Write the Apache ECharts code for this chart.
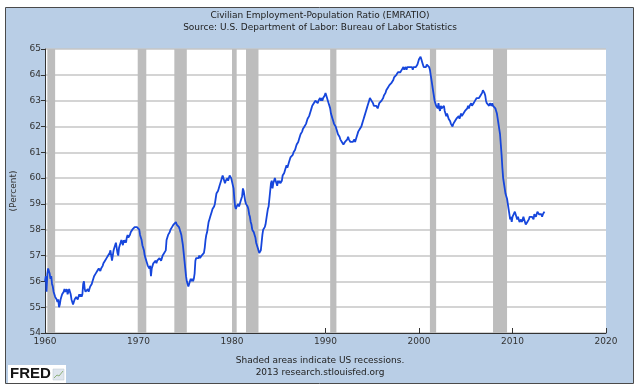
<!DOCTYPE html>
<html><head><meta charset="utf-8">
<script src="https://cdn.jsdelivr.net/npm/echarts@6/dist/echarts.min.js"></script>
<style>html,body{margin:0;padding:0;background:#fff}#c{width:640px;height:389px}</style>
</head><body><div id="c"></div><script>
const startYear = 1960; // first monthly observation: Jan 1960
const emratio1960s = [
56.0,56.2,55.6,56.3,56.5,56.4,56.3,56.1,56.2,55.9,55.8,55.6,
55.5,55.4,55.4,55.3,55.2,55.3,55.0,55.1,55.3,55.4,55.5,55.5,
55.6,55.7,55.6,55.6,55.7,55.5,55.6,55.7,55.6,55.5,55.3,55.2,
55.1,55.2,55.3,55.3,55.4,55.4,55.3,55.4,55.5,55.4,55.5,55.4,
55.5,55.9,56.0,55.7,55.6,55.6,55.6,55.7,55.6,55.7,55.8,55.8,
55.9,56.0,56.1,56.2,56.2,56.3,56.3,56.4,56.4,56.5,56.5,56.4,
56.5,56.5,56.6,56.7,56.7,56.8,56.8,56.9,56.9,57.0,57.0,57.1,
57.2,57.0,56.8,57.0,57.2,57.3,57.4,57.5,57.3,57.1,57.0,57.3,
57.4,57.5,57.6,57.5,57.4,57.6,57.5,57.6,57.5,57.7,57.8,57.7,
57.7,57.8,57.9,57.9,58.0,58.0,58.0,58.1,58.1,58.1,58.1,58.1];
const emratio1970s = [
58.1,58.0,57.8,57.7,57.6,57.4,57.3,57.2,57.0,56.9,56.8,56.7,
56.6,56.6,56.5,56.6,56.2,56.5,56.6,56.7,56.7,56.7,56.8,56.7,
56.8,56.8,56.8,56.9,56.9,56.8,56.9,57.0,57.0,57.1,57.1,57.2,
57.6,57.7,57.8,57.8,57.9,58.0,58.0,58.1,58.1,58.2,58.2,58.2,
58.3,58.2,58.2,58.2,58.1,58.0,57.9,57.8,57.6,57.4,57.1,56.8,
56.5,56.2,56.0,55.9,55.8,55.9,56.0,56.1,56.0,56.1,56.0,56.1,
56.3,56.8,56.9,56.9,56.9,56.9,57.0,56.9,56.9,57.0,57.0,57.0,
57.1,57.3,57.6,57.8,57.9,58.1,58.3,58.4,58.5,58.6,58.7,58.8,
58.8,58.9,59.0,59.2,59.4,59.4,59.5,59.6,59.7,59.8,59.9,60.0,
60.1,60.0,59.9,59.8,59.9,59.9,60.0,59.9,60.0,60.1,60.1,60.0];
const emratio1980s = [
60.0,60.0,59.6,59.2,58.9,58.8,58.9,58.9,59.0,58.9,59.0,59.1,
59.2,59.3,59.6,59.5,59.3,59.1,59.0,59.0,58.9,58.8,58.6,58.5,
58.3,58.2,58.0,58.0,57.9,57.8,57.7,57.5,57.4,57.3,57.2,57.1,
57.1,57.2,57.5,57.8,58.0,58.0,58.1,58.2,58.4,58.6,58.8,58.9,
59.2,59.5,59.8,59.9,59.6,59.8,59.9,60.0,59.9,59.8,59.7,59.9,
59.8,59.9,59.8,59.8,59.9,60.1,60.1,60.2,60.3,60.3,60.5,60.4,
60.5,60.6,60.6,60.8,60.8,60.8,60.9,61.0,61.0,61.1,61.2,61.3,
61.3,61.4,61.5,61.6,61.7,61.7,61.8,61.9,61.9,62.0,62.0,62.1,
62.2,62.3,62.3,62.4,62.5,62.6,62.7,62.8,62.8,62.9,62.9,63.0,
63.0,63.0,62.9,63.0,63.0,63.1,63.0,63.1,63.0,63.1,63.1,63.2];
const emratio1990s = [
63.3,63.2,63.1,63.0,62.9,62.8,62.7,62.5,62.4,62.3,62.2,62.1,
62.1,62.0,61.9,61.8,61.7,61.7,61.6,61.5,61.5,61.4,61.4,61.3,
61.3,61.4,61.4,61.4,61.5,61.6,61.5,61.5,61.4,61.4,61.4,61.4,
61.4,61.5,61.4,61.5,61.6,61.7,61.8,61.8,61.9,61.9,62.0,62.1,
62.2,62.3,62.4,62.4,62.6,62.7,62.8,62.9,63.0,63.1,63.1,63.0,
63.0,62.9,62.8,62.8,62.8,62.8,62.8,62.7,62.8,62.9,62.9,62.9,
63.0,63.0,63.1,63.2,63.2,63.3,63.4,63.4,63.5,63.5,63.6,63.6,
63.6,63.7,63.7,63.8,63.9,63.9,63.9,64.0,64.0,64.1,64.1,64.1,
64.1,64.1,64.2,64.2,64.3,64.2,64.2,64.3,64.2,64.3,64.3,64.3,
64.3,64.3,64.3,64.3,64.2,64.3,64.3,64.3,64.3,64.3,64.4,64.4];
const emratio2000s = [
64.6,64.6,64.7,64.6,64.5,64.4,64.3,64.3,64.3,64.3,64.4,64.4,
64.4,64.3,64.2,64.0,63.8,63.6,63.4,63.2,63.0,62.9,62.8,62.8,
62.7,62.9,62.7,62.6,62.8,62.7,62.7,62.7,62.8,62.6,62.5,62.4,
62.5,62.4,62.3,62.3,62.2,62.1,62.1,62.0,62.1,62.1,62.2,62.2,
62.3,62.3,62.3,62.4,62.3,62.4,62.5,62.4,62.4,62.5,62.5,62.6,
62.6,62.6,62.7,62.8,62.7,62.8,62.8,62.9,62.8,62.8,62.9,62.9,
63.0,63.0,63.1,63.1,63.1,63.1,63.1,63.2,63.2,63.3,63.4,63.4,
63.3,63.2,63.0,62.9,62.9,62.9,62.8,62.9,62.9,62.8,62.9,62.8,
62.8,62.8,62.7,62.6,62.5,62.3,62.1,61.9,61.7,61.3,60.9,60.4,
60.0,59.8,59.6,59.4,59.3,59.2,59.0,58.8,58.6,58.4,58.5,58.3];
const emratio2010s = [
58.5,58.5,58.5,58.7,58.6,58.5,58.4,58.5,58.5,58.3,58.3,58.4,
58.3,58.4,58.5,58.4,58.4,58.2,58.2,58.3,58.3,58.4,58.5,58.5,
58.5,58.5,58.5,58.4,58.6,58.6,58.5,58.5,58.7,58.7,58.6,58.6,
58.6,58.6,58.5,58.6,58.6,58.7];
const recessionStarts = ['1960-04','1969-12','1973-11','1980-01','1981-07','1990-07','2001-03','2007-12'];
const recessionEnds   = ['1961-02','1970-11','1975-03','1980-07','1982-11','1991-03','2001-11','2009-06'];
const xTickYears = [1960,1970,1980,1990,2000,2010,2020];
const yTickValues = [54,55,56,57,58,59,60,61,62,63,64,65];

const allValues = [].concat(emratio1960s, emratio1970s, emratio1980s, emratio1990s, emratio2000s, emratio2010s);
const lineData = allValues.map((v, i) => [startYear + i / 12, v]);
const toYear = s => { const p = s.split('-'); return +p[0] + (+p[1] - 1) / 12; };
const areas = recessionStarts.map((s, i) => [{xAxis: toYear(s)}, {xAxis: toYear(recessionEnds[i])}]);

const FONT = 'DejaVu Sans';
const chart = echarts.init(document.getElementById('c'), null, {renderer: 'canvas'});
chart.setOption({
  animation: false,
  backgroundColor: '#ffffff',
  textStyle: {fontFamily: FONT},
  graphic: [
    {type: 'rect', z: -10, shape: {x: 5.5, y: 7.5, width: 628, height: 376},
     style: {fill: '#b9cee6', stroke: '#4a4a4a', lineWidth: 1}},
    {type: 'text', left: 'center', top: 11, style: {text: 'Civilian Employment-Population Ratio (EMRATIO)', font: '9px ' + FONT, fill: '#222'}},
    {type: 'text', left: 'center', top: 23, style: {text: 'Source: U.S. Department of Labor: Bureau of Labor Statistics', font: '9px ' + FONT, fill: '#222'}},
    {type: 'text', left: 'center', top: 356, style: {text: 'Shaded areas indicate US recessions.', font: '9px ' + FONT, fill: '#222'}},
    {type: 'text', left: 'center', top: 368, style: {text: '2013 research.stlouisfed.org', font: '9px ' + FONT, fill: '#222'}},
    {type: 'group', left: 8, top: 365, children: [
      {type: 'rect', shape: {x: 0, y: 0, width: 58, height: 18}, style: {fill: '#ffffff'}},
      {type: 'text', x: 2, y: 1, style: {text: 'FRED', font: 'bold 15px "Liberation Sans"', fill: '#151515'}},
      {type: 'rect', shape: {x: 45, y: 4, width: 11, height: 11}, style: {fill: '#dfe6ee', stroke: '#b8c4cf', lineWidth: 0.5}},
      {type: 'polyline', shape: {points: [[46, 13], [49, 10], [51, 11], [55, 6]]}, style: {stroke: '#8fb07a', lineWidth: 1, fill: null}}
    ]}
  ],
  grid: {left: 45, right: 34, top: 49, bottom: 56, show: true, backgroundColor: '#ffffff', borderWidth: 0},
  xAxis: {
    type: 'value', min: xTickYears[0], max: xTickYears[xTickYears.length - 1], interval: 10,
    axisLine: {lineStyle: {color: '#333', width: 1}},
    axisTick: {inside: true, length: 5, lineStyle: {color: '#333'}},
    splitLine: {show: false},
    axisLabel: {color: '#333', fontSize: 9, margin: 4, formatter: v => String(v)}
  },
  yAxis: {
    type: 'value', min: yTickValues[0], max: yTickValues[yTickValues.length - 1], interval: 1,
    name: '(Percent)', nameLocation: 'middle', nameRotate: 90, nameGap: 25,
    nameTextStyle: {color: '#333', fontSize: 9},
    axisLine: {show: true, lineStyle: {color: '#333', width: 1}},
    axisTick: {show: true, inside: false, length: 4, lineStyle: {color: '#333'}},
    splitLine: {show: true, lineStyle: {color: '#c6c6c6', width: 1.5}},
    axisLabel: {color: '#333', fontSize: 9, margin: 4}
  },
  series: [{
    type: 'line', data: lineData, showSymbol: false, symbol: 'none',
    lineStyle: {color: '#1646dc', width: 1.8},
    markArea: {silent: true, itemStyle: {color: '#bdbdbd', opacity: 1}, data: areas}
  }]
});
</script></body></html>
